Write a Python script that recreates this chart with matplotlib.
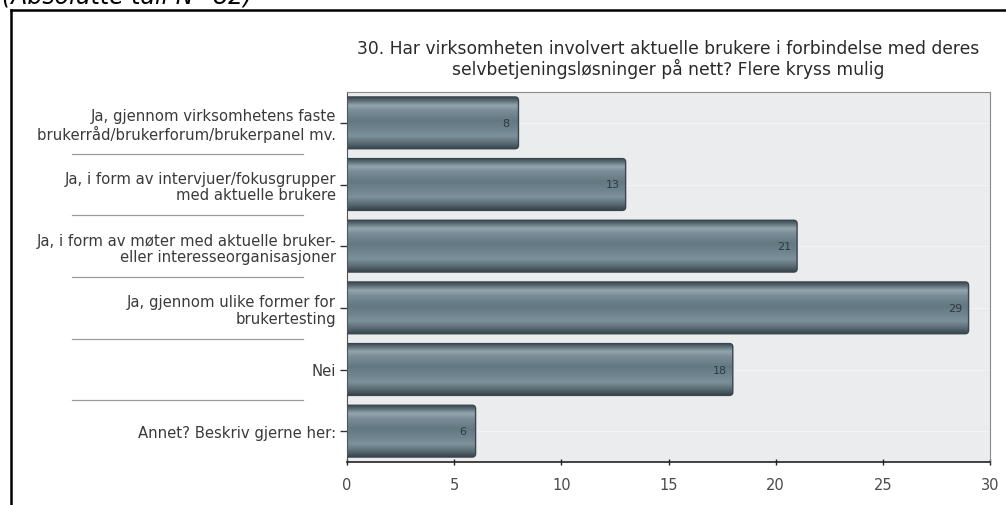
import numpy as np
import matplotlib.pyplot as plt
from matplotlib.patches import FancyBboxPatch
from matplotlib.colors import LinearSegmentedColormap
from matplotlib.lines import Line2D
import matplotlib.transforms as mtransforms

plt.rcParams['font.family'] = ['DejaVu Sans']

labels = [
    "Ja, gjennom virksomhetens faste\nbrukerråd/brukerforum/brukerpanel mv.",
    "Ja, i form av intervjuer/fokusgrupper\nmed aktuelle brukere",
    "Ja, i form av møter med aktuelle bruker-\neller interesseorganisasjoner",
    "Ja, gjennom ulike former for\nbrukertesting",
    "Nei",
    "Annet? Beskriv gjerne her:",
]
counts = [8, 13, 21, 29, 18, 6]
xticks = [0, 5, 10, 15, 20, 25, 30]

title = ("30. Har virksomheten involvert aktuelle brukere i forbindelse med deres\n"
         "selvbetjeningsløsninger på nett? Flere kryss mulig")

W, H = 1006, 506
fig = plt.figure(figsize=(W / 100, H / 100), dpi=100)
fig.patch.set_facecolor('white')

# outer frame (only top and left edges fall inside the image)
fig.add_artist(Line2D([11 / W, 1.0], [1 - 10.5 / H, 1 - 10.5 / H], color='black', lw=1.8))
fig.add_artist(Line2D([11 / W, 11 / W], [1 - 10.5 / H, 0.0], color='black', lw=1.8))
fig.text(2 / W, 1 - 3.5 / H, "(Absolutte tall N=82)", fontsize=17, style='italic',
         color='black', va='baseline', ha='left')

ax = fig.add_axes([347 / W, 1 - 463 / H, (990 - 347) / W, (463 - 93) / H])
ax.set_facecolor('#eaeced')

n = len(counts)
ypos = np.arange(n)

# faint gridlines at the category ticks
for y in ypos:
    ax.axhline(y, color='#f3f4f4', lw=0.8, zorder=1)

# cylinder-like shading for the bars
shade = LinearSegmentedColormap.from_list('bar', [
    (0.00, '#3c4a52'),
    (0.06, '#56676f'),
    (0.16, '#93a5ad'),
    (0.26, '#7a8d97'),
    (0.45, '#647883'),
    (0.62, '#6f848f'),
    (0.75, '#7d929c'),
    (0.90, '#56676f'),
    (1.00, '#37434a'),
])
grad = np.linspace(0, 1, 256).reshape(-1, 1)

bar_h = 0.84
x_px = 643 / 30
y_px = 370 / n
aspect = (1 / y_px) / (1 / x_px)
for y, v in zip(ypos, counts):
    box = FancyBboxPatch((-0.3, y - bar_h / 2), v + 0.3, bar_h,
                         boxstyle="round,pad=0,rounding_size=0.16",
                         mutation_aspect=aspect, facecolor='none',
                         edgecolor='#3a464d', lw=1.0, zorder=3)
    ax.add_patch(box)
    im = ax.imshow(grad, extent=[-0.3, v, y + bar_h / 2, y - bar_h / 2],
                   cmap=shade, aspect='auto', zorder=2, interpolation='bilinear')
    im.set_clip_path(box)
    ax.text(v - 0.6, y, str(v), ha='center', va='center', fontsize=8,
            color='#2e3a40', zorder=4)

ax.set_xlim(0, 30)
ax.set_ylim(n - 0.5, -0.5)
ax.set_yticks(ypos)
ax.set_yticklabels(labels, fontsize=10.7, color='#3a3a3a', linespacing=1.1)
ax.set_xticks(xticks)
ax.set_xticklabels([str(t) for t in xticks], fontsize=10.5, color='#4a4a4a')
ax.tick_params(axis='y', length=5, width=1, color='#333333', pad=3)
ax.tick_params(axis='x', length=5, width=1, color='#222222', pad=8, direction='inout')

for side in ['top', 'right']:
    ax.spines[side].set_color('#8a8a8a')
    ax.spines[side].set_linewidth(0.8)
ax.spines['left'].set_color('#555555')
ax.spines['bottom'].set_color('#222222')
ax.spines['bottom'].set_linewidth(1.2)

# separator lines between the category labels
trans = mtransforms.blended_transform_factory(fig.transFigure, ax.transData)
for b in np.arange(0.5, n - 0.5, 1.0):
    ax.add_line(Line2D([72 / W, 303 / W], [b, b], transform=trans, color='#9a9a9a',
                       lw=0.9, clip_on=False))

ax.set_title(title, fontsize=12.3, color='#2a2a2a', linespacing=1.05, pad=13)

fig.savefig('out.png', dpi=100)
